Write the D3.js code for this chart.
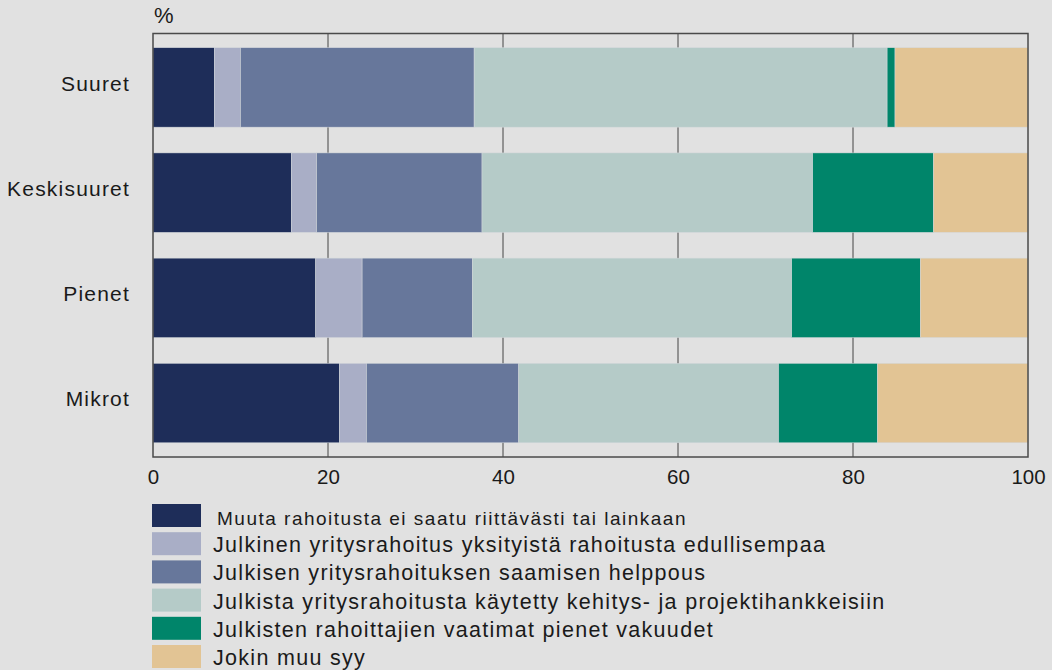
<!DOCTYPE html>
<html>
<head>
<meta charset="utf-8">
<script src="https://cdn.jsdelivr.net/npm/d3@7"></script>
<style>
  body { margin: 0; background: #e1e1e1; }
  svg { display: block; font-family: Arial, "Liberation Sans", sans-serif; }
</style>
</head>
<body>
<div id="chart"></div>
<script>
const categories = ['Suuret', 'Keskisuuret', 'Pienet', 'Mikrot'];
const seriesNames = [
  'Muuta rahoitusta ei saatu riittävästi tai lainkaan',
  'Julkinen yritysrahoitus yksityistä rahoitusta edullisempaa',
  'Julkisen yritysrahoituksen saamisen helppous',
  'Julkista yritysrahoitusta käytetty kehitys- ja projektihankkeisiin',
  'Julkisten rahoittajien vaatimat pienet vakuudet',
  'Jokin muu syy'
];
// values per category, in series order
const suuret = [7.0, 3.0, 26.7, 47.2, 0.9, 15.2];
const keskisuuret = [15.8, 2.9, 18.9, 37.8, 13.8, 10.8];
const pienet = [18.6, 5.3, 12.6, 36.5, 14.7, 12.3];
const mikrot = [21.3, 3.1, 17.4, 29.7, 11.3, 17.2];
const xTicks = [0, 20, 40, 60, 80, 100];
const colors = ['#1e2d59', '#a9aec6', '#67779b', '#b5cbc8', '#00856a', '#e2c494'];

const rows = [suuret, keskisuuret, pienet, mikrot];
const table = categories.map((c, i) => {
  const o = { cat: c };
  seriesNames.forEach((s, j) => { o[s] = rows[i][j]; });
  return o;
});

const W = 1052, H = 670;
const margin = { top: 33.5, left: 153, right: 24, bottom: 213 };
const width = W - margin.left - margin.right;
const height = H - margin.top - margin.bottom;

const svg = d3.select('#chart').append('svg')
  .attr('width', W).attr('height', H);
svg.append('rect').attr('width', W).attr('height', H).attr('fill', '#e1e1e1');

const g = svg.append('g').attr('transform', `translate(${margin.left},${margin.top})`);

const x = d3.scaleLinear().domain([0, 100]).range([0, width]);
const y = d3.scaleBand().domain(categories).range([0, height])
  .paddingInner(0.245).paddingOuter(0.135);

// gridlines
g.append('g')
  .selectAll('line')
  .data(xTicks.slice(1, -1))
  .join('line')
  .attr('x1', d => x(d)).attr('x2', d => x(d))
  .attr('y1', 0).attr('y2', height)
  .attr('stroke', '#444').attr('stroke-width', 1);

const stack = d3.stack().keys(seriesNames)(table);

g.append('g')
  .selectAll('g')
  .data(stack)
  .join('g')
  .attr('fill', (d, i) => colors[i])
  .selectAll('rect')
  .data(d => d)
  .join('rect')
  .attr('x', d => x(d[0]))
  .attr('width', d => x(d[1]) - x(d[0]))
  .attr('y', d => y(d.data.cat))
  .attr('height', y.bandwidth())
  .attr('stroke', '#d4d8dc')
  .attr('stroke-width', 0.5);

// frame
g.append('rect')
  .attr('x', 0).attr('y', 0).attr('width', width).attr('height', height)
  .attr('fill', 'none').attr('stroke', '#4a4a4a').attr('stroke-width', 1.5);

// x axis labels
const xAxis = g.append('g')
  .attr('transform', `translate(0,${height})`)
  .call(d3.axisBottom(x).tickValues(xTicks).tickSize(0).tickPadding(12));
xAxis.select('.domain').remove();
xAxis.selectAll('text')
  .attr('font-family', '"Liberation Sans Narrow", "Arial Narrow", Arial, sans-serif')
  .attr('font-size', 20.5).attr('fill', '#1a1a1a');

// y axis labels
const yAxis = g.append('g')
  .call(d3.axisLeft(y).tickSize(0).tickPadding(23));
yAxis.select('.domain').remove();
yAxis.selectAll('text')
  .attr('font-size', 21).attr('letter-spacing', 1.2)
  .attr('dy', '0.15em').attr('fill', '#1a1a1a');

svg.append('text')
  .attr('x', 154).attr('y', 23)
  .attr('font-size', 22).attr('fill', '#1a1a1a')
  .text('%');

// legend
const legend = svg.append('g').attr('transform', 'translate(152,504)');
const item = legend.selectAll('g')
  .data(seriesNames)
  .join('g')
  .attr('transform', (d, i) => `translate(0,${i * 28.2})`);
item.append('rect')
  .attr('width', 49).attr('height', 23)
  .attr('fill', (d, i) => colors[i]);
item.append('text')
  .attr('x', (d, i) => i === 0 ? 65 : 61)
  .attr('y', (d, i) => i === 0 ? 20.5 : 20)
  .attr('font-size', (d, i) => i === 0 ? 19 : 21.5)
  .attr('letter-spacing', (d, i) => i === 0 ? 1.5 : 1.3)
  .attr('fill', '#1a1a1a')
  .text(d => d);
</script>
</body>
</html>
